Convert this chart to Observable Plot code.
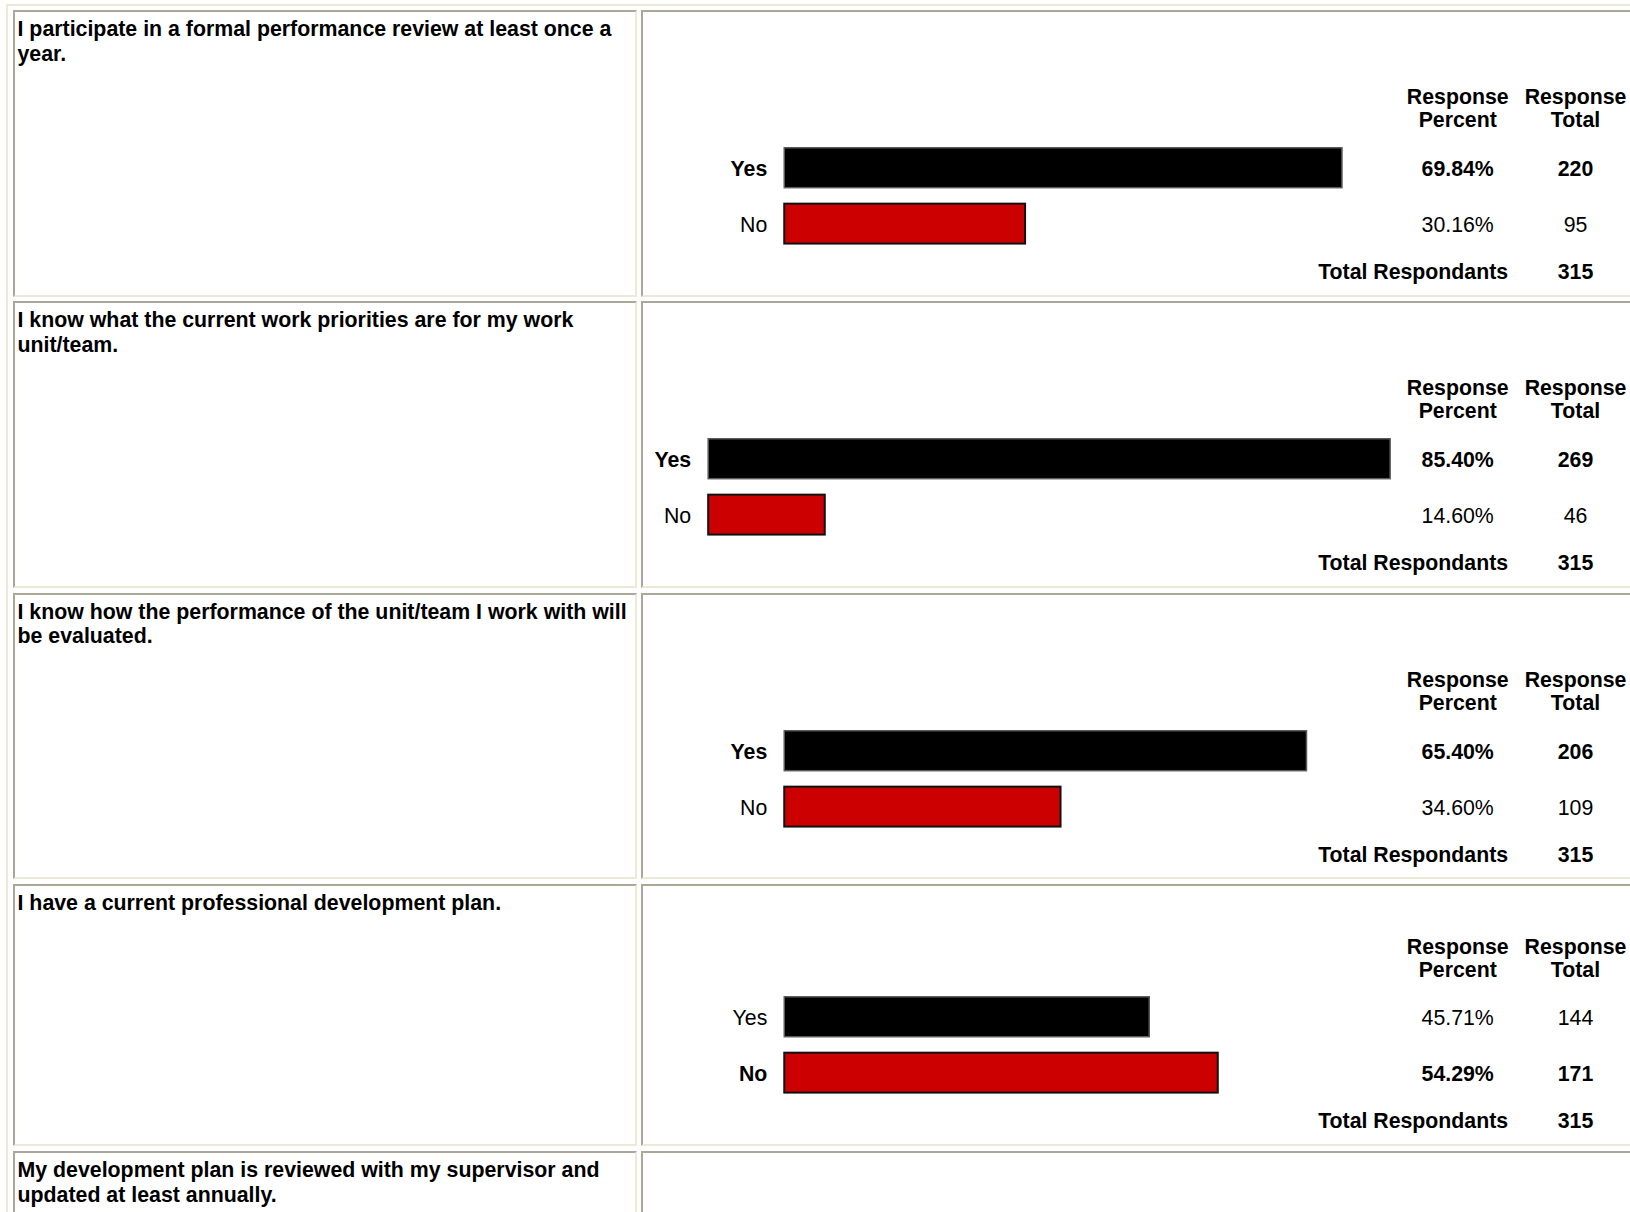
<!DOCTYPE html>
<html>
<head>
<meta charset="utf-8">
<script src="https://cdn.jsdelivr.net/npm/d3@7"></script>
<script src="https://cdn.jsdelivr.net/npm/@observablehq/plot@0.6"></script>
<style>
html, body { margin: 0; padding: 0; background: #fff; overflow: hidden; width: 1630px; height: 1212px; }
body { position: relative; font-family: "Liberation Sans", Arial, sans-serif; font-size: 21.33px; color: #000; }
.outer { position: absolute; left: 6px; top: 4px; width: 1800px; height: 1400px; box-sizing: border-box;
  border-top: 2.5px solid #ece9d8; border-left: 2px solid #ece9d8; }
.cell { position: absolute; box-sizing: border-box; border: 2px solid; border-color: #aca899 #ece9d8 #ece9d8 #aca899; background: #fff; }
.left { padding: 5px 1px 0 3px; }
.q { font-weight: bold; line-height: 24.5px; }
.chart { position: absolute; left: -2px; top: -2px; }
.chart svg { overflow: visible; }
</style>
</head>
<body>
<div class="outer"></div>
<div id="root"></div>
<script>
// ---- data ----
const questions = [
  "I participate in a formal performance review at least once a year.",
  "I know what the current work priorities are for my work unit/team.",
  "I know how the performance of the unit/team I work with will be evaluated.",
  "I have a current professional development plan.",
  "My development plan is reviewed with my supervisor and updated at least annually."
];
const answers = ["Yes", "No"];
const yesPercent = [69.84, 85.40, 65.40, 45.71];
const noPercent  = [30.16, 14.60, 34.60, 54.29];
const yesTotal   = [220, 269, 206, 144];
const noTotal    = [95, 46, 109, 171];
const respondents = [315, 315, 315, 315];
const headerPercent = "Response\nPercent";
const headerTotal = "Response\nTotal";
const totalLabel = "Total Respondants";
const barColors = ["#000000", "#cc0000"];
const barStrokes = ["#5a5a5a", "#111111"];

// ---- layout constants ----
const FONT = "21.33px";
const LINE = 24.5;
const TOP0 = 10, GAP = 4.8;
const LEFT_X = 12.5, LEFT_W = 624;
const RIGHT_X = 640.5, RIGHT_W = 1100;
const PX_PER_PCT = 8;
const BAR_RIGHT = 750.5, BAR_MIN = 607;
const PCT_COL = 817.7, TOT_COL = 935.7, LABEL_RIGHT = 868.2;

const fmtPct = v => d3.format(".2f")(v) + "%";
const root = document.getElementById("root");
let rowTop = TOP0;

questions.forEach((q, qi) => {
  const left = document.createElement("div");
  left.className = "cell left";
  left.style.left = LEFT_X + "px";
  left.style.width = LEFT_W + "px";
  left.style.top = rowTop + "px";
  const qd = document.createElement("div");
  qd.className = "q";
  qd.textContent = q;
  left.appendChild(qd);
  root.appendChild(left);

  const right = document.createElement("div");
  right.className = "cell";
  right.style.left = RIGHT_X + "px";
  right.style.width = RIGHT_W + "px";
  right.style.top = rowTop + "px";
  root.appendChild(right);

  const lines = Math.max(1, Math.round(qd.getBoundingClientRect().height / LINE));
  const o = (lines - 1) * LINE;
  const rowH = 262.1 + o;
  left.style.height = rowH + "px";
  right.style.height = rowH + "px";

  if (qi < yesPercent.length) {
    const data = answers.map((a, i) => ({
      answer: a,
      pct: i === 0 ? yesPercent[qi] : noPercent[qi],
      total: i === 0 ? yesTotal[qi] : noTotal[qi]
    }));
    const maxPct = d3.max(data, d => d.pct);
    const isMajor = d => d.pct === maxPct;
    const barLeft = BAR_RIGHT - Math.max(BAR_MIN, maxPct * PX_PER_PCT);

    const rowMarks = (filter, weight) => [
      Plot.text(data, {filter, x: 0, y: "answer", text: "answer", textAnchor: "end", dx: -17.5, dy: 1,
        fontWeight: weight, fontSize: FONT}),
      Plot.text(data, {filter, frameAnchor: "left", y: "answer", text: d => fmtPct(d.pct), dx: PCT_COL, dy: 1,
        textAnchor: "middle", fontWeight: weight, fontSize: FONT}),
      Plot.text(data, {filter, frameAnchor: "left", y: "answer", text: d => String(d.total), dx: TOT_COL, dy: 1,
        textAnchor: "middle", fontWeight: weight, fontSize: FONT})
    ];

    const chart = Plot.plot({
      width: RIGHT_W,
      height: rowH,
      margin: 0,
      style: {fontFamily: '"Liberation Sans", Arial, sans-serif', fontSize: FONT, color: "#000", background: "transparent", overflow: "visible"},
      x: {domain: [0, 100], range: [barLeft, barLeft + 100 * PX_PER_PCT], axis: null},
      y: {type: "band", domain: answers, range: [105.25 + o, 217.45 + o], paddingInner: 0.2857, paddingOuter: 0.14285, axis: null},
      marks: [
        ...answers.map((a, i) => Plot.barX(data, {
          filter: d => d.answer === a, x1: 0, x2: "pct", y: "answer",
          fill: barColors[i], stroke: barStrokes[i], strokeWidth: i === 0 ? 1.5 : 2
        })),
        ...rowMarks(d => isMajor(d), "bold"),
        ...rowMarks(d => !isMajor(d), "normal"),
        Plot.text([headerPercent], {frameAnchor: "top-left", text: d => d, dx: PCT_COL, dy: 73.4 + o,
          textAnchor: "middle", lineAnchor: "middle", lineHeight: 1.1, fontWeight: "bold", fontSize: FONT}),
        Plot.text([headerTotal], {frameAnchor: "top-left", text: d => d, dx: TOT_COL, dy: 73.4 + o,
          textAnchor: "middle", lineAnchor: "middle", lineHeight: 1.1, fontWeight: "bold", fontSize: FONT}),
        Plot.text([totalLabel], {frameAnchor: "top-left", text: d => d, dx: LABEL_RIGHT, dy: 237.5 + o,
          textAnchor: "end", lineAnchor: "middle", fontWeight: "bold", fontSize: FONT}),
        Plot.text([respondents[qi]], {frameAnchor: "top-left", text: d => String(d), dx: TOT_COL, dy: 237.5 + o,
          textAnchor: "middle", lineAnchor: "middle", fontWeight: "bold", fontSize: FONT})
      ]
    });
    const holder = document.createElement("div");
    holder.className = "chart";
    holder.appendChild(chart);
    right.appendChild(holder);
  }
  rowTop += rowH + GAP;
});
</script>
</body>
</html>
